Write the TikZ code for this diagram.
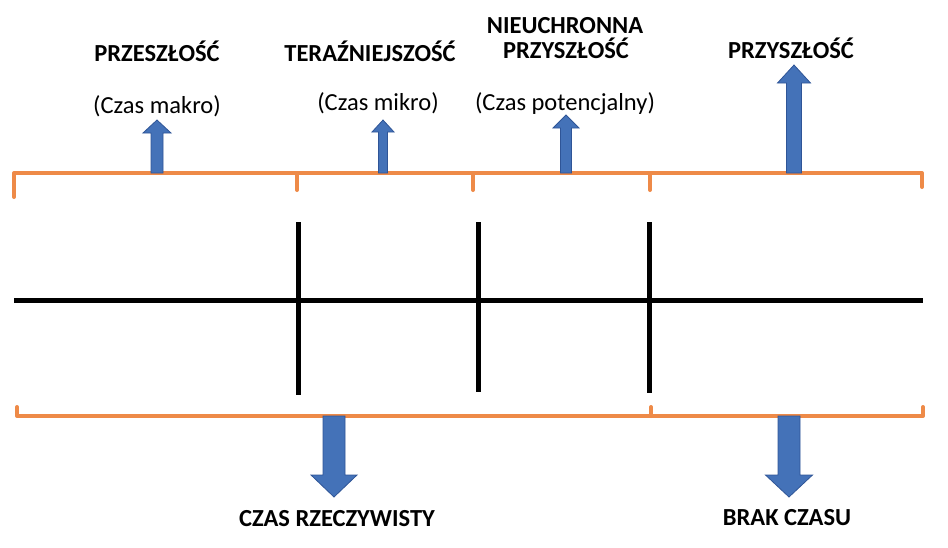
\documentclass[tikz,border=0pt]{standalone}
\usepackage{fontspec}
\setmainfont{Carlito}
\definecolor{orangeline}{HTML}{EE8A48}
\definecolor{blockblue}{HTML}{4472B8}
\definecolor{blockedge}{HTML}{2F5597}
\tikzset{
  bracketline/.style={draw=orangeline, line width=4pt, line cap=round, line join=round},
  axisline/.style={draw=black, line width=5pt},
  tickline/.style={draw=black, line width=5pt},
  blockarrow/.style={fill=blockblue, draw=blockedge, line width=0.8pt, line join=miter},
  headlabel/.style={font=\fontsize{24.5}{25}\selectfont\bfseries, inner sep=0pt, align=center},
  sublabel/.style={font=\fontsize{24.5}{25}\selectfont, inner sep=0pt},
}
% #1 x, #2 base y, #3 tip y, #4 half shaft width, #5 half head width, #6 head length (signed towards tip)
\newcommand\blockarr[6]{%
  \path[blockarrow] (#1-#4,#2) -- (#1-#4,#3-#6) -- (#1-#5,#3-#6) -- (#1,#3) -- (#1+#5,#3-#6) -- (#1+#4,#3-#6) -- (#1+#4,#2) -- cycle;}
\begin{document}
\begin{tikzpicture}[x=1pt,y=-1pt]
\useasboundingbox (0,0) rectangle (948,547);
% coordinates
\coordinate (tl) at (14,173);
\coordinate (tr) at (922,173);
\coordinate (bl) at (17,416);
\coordinate (br) at (923,416);
% top orange bracket
\draw[bracketline] (14,197) -- (tl) -- (tr) -- (922,187);
\draw[bracketline] (297,173) -- (297,190);
\draw[bracketline] (473,173) -- (473,190);
\draw[bracketline] (650,173) -- (650,190);
% bottom orange bracket
\draw[bracketline] (17,407) -- (bl) -- (br) -- (923,407);
\draw[bracketline] (651,416) -- (651,407);
% black axis
\coordinate (al) at (14,300);
\coordinate (ar) at (923,300);
\draw[axisline] (al) -- (ar);
\draw[tickline] (298,222) -- (298,395);
\draw[tickline] (478,222) -- (478,392);
\draw[tickline] (649,222) -- (649,393);
% up arrows
\blockarr{157}{173}{120}{6}{14}{-13}
\blockarr{383}{173}{120}{4.5}{11}{-12}
\blockarr{566}{173}{115}{5.5}{13}{-13}
\blockarr{794}{173}{65}{7.5}{16.5}{-18}
% down arrows
\blockarr{334}{416}{497}{11}{23}{22}
\blockarr{789}{416}{497}{11}{23.5}{22}
% labels
\node[headlabel, anchor=base] (past) at (157,61) {PRZESZŁOŚĆ};
\node[headlabel, anchor=base] (present) at (370,61) {TERAŹNIEJSZOŚĆ};
\node[headlabel, anchor=base] (inev1) at (565,33) {NIEUCHRONNA};
\node[headlabel, anchor=base] (inev2) at (566,58) {PRZYSZŁOŚĆ};
\node[headlabel, anchor=base] (future) at (791,58) {PRZYSZŁOŚĆ};
\node[sublabel, anchor=base] (macro) at (157,113) {(Czas makro)};
\node[sublabel, anchor=base] (micro) at (378,110) {(Czas mikro)};
\node[sublabel, anchor=base] (potential) at (565,110) {(Czas potencjalny)};
\node[headlabel, anchor=base] (real) at (337,526) {CZAS RZECZYWISTY};
\node[headlabel, anchor=base] (notime) at (787,525) {BRAK CZASU};
\end{tikzpicture}
\end{document}
